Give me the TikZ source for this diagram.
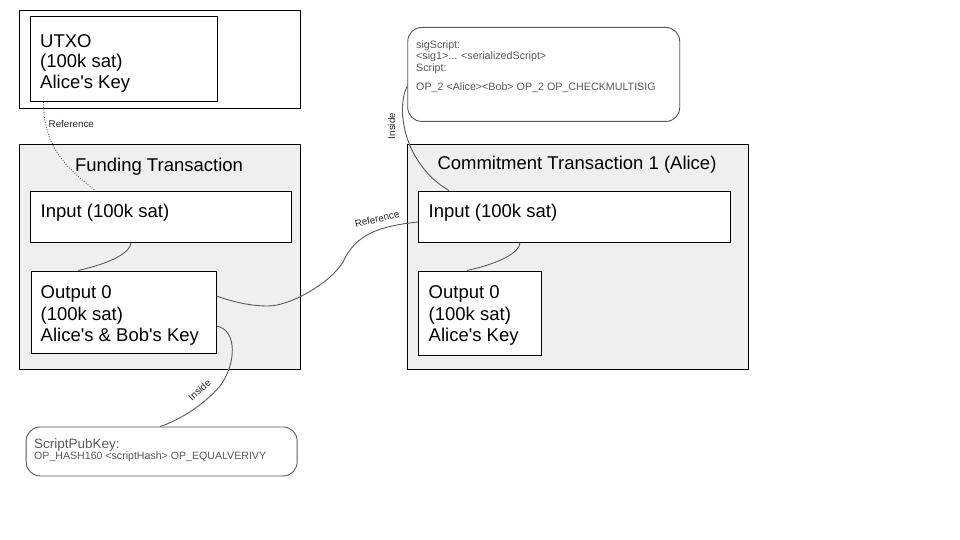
\documentclass[tikz,border=0pt]{standalone}
\usepackage{fontspec}
\setmainfont{Liberation Sans}[Ligatures=TeXOff]
\usetikzlibrary{calc}
\definecolor{boxgray}{HTML}{EFEFEF}
\definecolor{linegray}{HTML}{595959}
\definecolor{textgray}{HTML}{595959}
\tikzset{
  plainbox/.style={draw=black, line width=1pt, fill=white, inner sep=0pt, anchor=north west},
  txbox/.style={draw=black, line width=1pt, fill=boxgray, inner sep=0pt, anchor=north west},
  notebox/.style={draw=linegray, line width=0.9pt, rounded corners=14pt, fill=white, inner sep=0pt, anchor=north west},
  bigtext/.style={font=\fontsize{18.5}{21.7}\selectfont, inner sep=0pt, anchor=base west, align=left},
  smalltext/.style={font=\fontsize{10.7}{11.7}\selectfont, text=textgray, inner sep=0pt, anchor=base west, align=left},
  conn/.style={draw=linegray, line width=0.9pt},
  lbl/.style={font=\fontsize{9.8}{10}\selectfont, inner sep=0pt, text=black!85},
}
\begin{document}
\begin{tikzpicture}[x=1pt, y=-1pt]
\useasboundingbox (0,0) rectangle (960,540);

% UTXO (multi-line texts are placed by the baseline of their last line)
\node[plainbox, minimum width=281pt, minimum height=98pt] (utxoOuter) at (19,10) {};
\node[plainbox, minimum width=187pt, minimum height=85pt] (utxo) at (30,16) {};
\node[bigtext, font=\fontsize{18.5}{20.5}\selectfont] (utxoText) at (40,88.5) {UTXO\\(100k sat)\\Alice's Key};

% Funding transaction
\node[txbox, minimum width=281pt, minimum height=224pt] (fund) at (18.5,144.5) {};
\node[bigtext, anchor=base] (fundTitle) at (159,171.3) {Funding Transaction};
\node[plainbox, minimum width=260.5pt, minimum height=51pt] (fundIn) at (30,190.5) {};
\node[bigtext] (fundInText) at (40.5,217) {Input (100k sat)};
\node[plainbox, minimum width=185pt, minimum height=82pt] (fundOut) at (30.5,270.5) {};
\node[bigtext] (fundOutText) at (40.5,341.7) {Output 0\\(100k sat)\\Alice's \& Bob's Key};

% Commitment transaction
\node[txbox, minimum width=341pt, minimum height=224pt] (com) at (407,144.5) {};
\node[bigtext, anchor=base] (comTitle) at (577,170) {Commitment Transaction 1 (Alice)};
\node[plainbox, minimum width=311.5pt, minimum height=51pt] (comIn) at (418,190.5) {};
\node[bigtext] (comInText) at (428.5,217) {Input (100k sat)};
\node[plainbox, minimum width=123pt, minimum height=84pt] (comOut) at (418,270.5) {};
\node[bigtext] (comOutText) at (428.5,341.7) {Output 0\\(100k sat)\\Alice's Key};

% Script notes
\node[notebox, minimum width=272pt, minimum height=94pt] (sig) at (407.3,27) {};
\node[smalltext] (sigText) at (416,90.7) {sigScript:\\<sig1>... <serializedScript>\\Script:\\[7.3pt]OP\_2 <Alice><Bob> OP\_2 OP\_CHECKMULTISIG};
\node[notebox, minimum width=271pt, minimum height=49pt] (spk) at (25.7,426.5) {};
\node[smalltext, font=\fontsize{13.5}{14}\selectfont] (spkTitle) at (34,448.3) {ScriptPubKey:};
\node[smalltext, font=\fontsize{10.6}{11}\selectfont] (spkText) at (34,459.5) {OP\_HASH160 <scriptHash> OP\_EQUALVERIVY};

% Connectors
\draw[conn, dash pattern=on 0.9pt off 1.6pt] ($(utxo.south west)+(13.5,0)$) .. controls (43.5,150) and (70,170) .. ($(fundIn.north west)+(65,0)$);
\node[lbl, anchor=base west] (ref1) at (48.5,127.7) {Reference};

\draw[conn] ($(fundIn.south west)+(101,0)$) .. controls (131,252) and (112,263) .. ($(fundOut.north west)+(47.5,0)$);
\draw[conn] ($(comIn.south west)+(102,0)$) .. controls (520,252) and (501,263) .. ($(comOut.north west)+(49,0)$);

\coordinate (refB) at (268,306);
\coordinate (refC) at (343,262);
\draw[conn] ($(fundOut.north east)+(0,25.5)$) .. controls (233,302) and (251,306) .. (refB)
  .. controls (290,306) and (330,283.5) .. (refC)
  .. controls (355.6,234) and (380,226) .. ($(comIn.north west)+(0,31.5)$);
\node[lbl, rotate=13] (ref2) at (377,219) {Reference};

\coordinate (insB) at (220,386);
\draw[conn] ($(fundOut.north east)+(0,55.5)$) .. controls (238,330) and (236,365) .. (insB)
  .. controls (205,404) and (180,420) .. ($(spk.north west)+(134.5,0)$);
\node[lbl, rotate=42] (ins1) at (199.5,390) {Inside};

\draw[conn] ($(comIn.north west)+(31,0)$) .. controls (405,165) and (395,110) .. ($(sig.north west)+(0,59)$);
\node[lbl, rotate=90] (ins2) at (391.5,126) {Inside};
\end{tikzpicture}
\end{document}
